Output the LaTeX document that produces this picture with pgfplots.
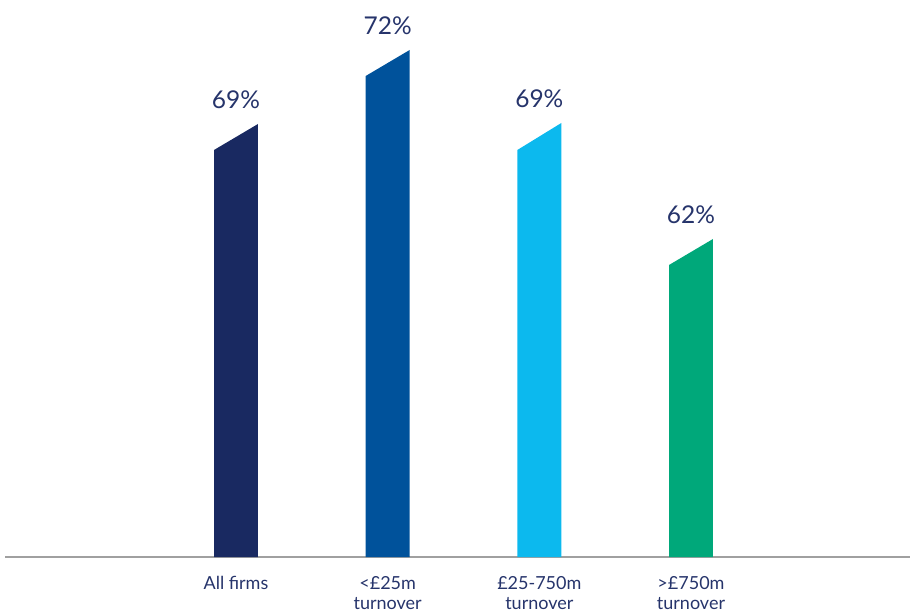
\documentclass[border=0pt]{standalone}
\usepackage{pgfplots}
\pgfplotsset{compat=1.18}
\usepackage{fontspec}
\setmainfont{Lato}
\definecolor{cA}{HTML}{192961}
\definecolor{cB}{HTML}{00529B}
\definecolor{cC}{HTML}{0CB9EE}
\definecolor{cD}{HTML}{00A87A}
\definecolor{txt}{HTML}{26346B}
\definecolor{axisgray}{HTML}{A0A0A0}
\begin{document}
\begin{tikzpicture}
\path[use as bounding box] (0,0) rectangle (910pt,613pt);
\begin{axis}[
  at={(5pt,56pt)}, anchor=south west,
  scale only axis, width=905pt, height=557pt,
  xmin=-1.523, xmax=4.444, ymin=0, ymax=557,
  axis x line=bottom, axis y line=none,
  axis line style={-, draw=axisgray, line width=1.8pt},
  xtick={0,1,2,3},
  xticklabels={All firms, {<£25m\\turnover}, {£25-750m\\turnover}, {>£750m\\turnover}},
  major tick length=0pt,
  xticklabel style={font=\fontsize{18}{19.5}\selectfont, text=txt, align=center, anchor=north, inner sep=0pt, yshift=-19.5pt},
  clip=false,
]
% bar heights (px above baseline): left edge, right edge
\addplot[fill=cA, draw=none] coordinates {(-0.145,0) (-0.145,407) (0.145,433) (0.145,0)} -- cycle;
\addplot[fill=cB, draw=none] coordinates {(0.855,0) (0.855,481) (1.145,507) (1.145,0)} -- cycle;
\addplot[fill=cC, draw=none] coordinates {(1.855,0) (1.855,407) (2.145,434) (2.145,0)} -- cycle;
\addplot[fill=cD, draw=none] coordinates {(2.855,0) (2.855,292) (3.145,318) (3.145,0)} -- cycle;
\addplot[draw=none, mark=none, nodes near coords, point meta=explicit symbolic,
  every node near coord/.append style={font=\fontsize{24.5}{28}\selectfont, text=txt, anchor=center, yshift=24pt}]
  coordinates {(0,433)[69\%] (1,507)[72\%] (2,434)[69\%] (3,318)[62\%]};
\end{axis}
\end{tikzpicture}
\end{document}
